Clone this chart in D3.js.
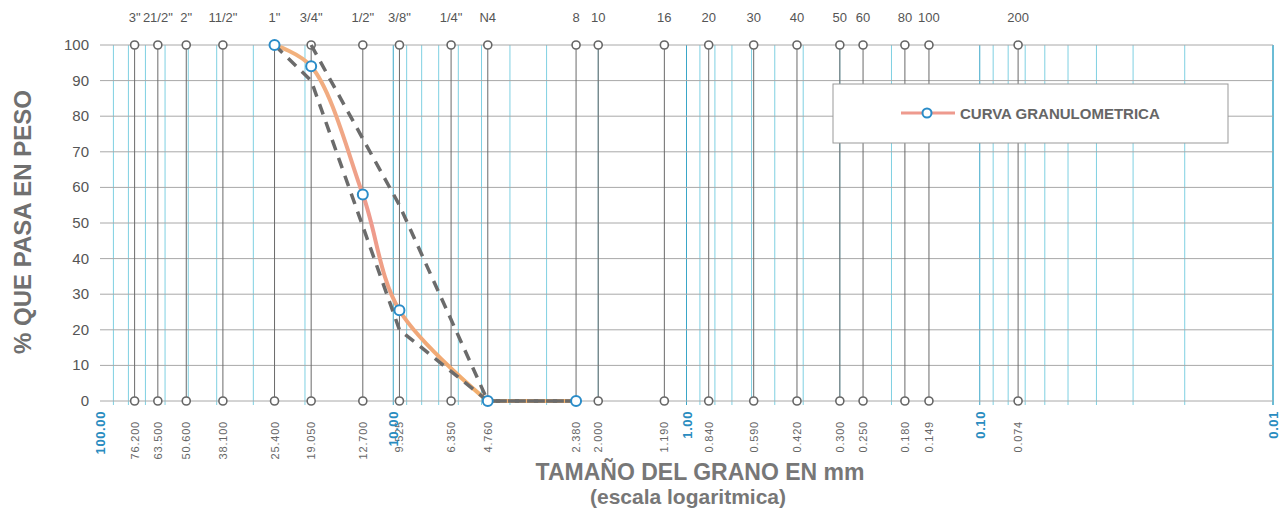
<!DOCTYPE html>
<html>
<head>
<meta charset="utf-8">
<script src="https://cdn.jsdelivr.net/npm/d3@7"></script>
<style>
  body { margin: 0; background: #fff; }
  svg { display: block; font-family: "Liberation Sans", Arial, sans-serif; }
</style>
</head>
<body>
<svg id="chart" width="1284" height="518"></svg>
<script>
// sieves (top name, size in mm, printed size label)
var sieveNames = ['3"', '21/2"', '2"', '11/2"', '1"', '3/4"', '1/2"', '3/8"', '1/4"', 'N4',
                  '8', '10', '16', '20', '30', '40', '50', '60', '80', '100', '200'];
var sieveSizes = [76.2, 63.5, 50.8, 38.1, 25.4, 19.05, 12.7, 9.525, 6.35, 4.76,
                  2.38, 2.0, 1.19, 0.84, 0.59, 0.42, 0.30, 0.25, 0.18, 0.149, 0.074];
var sizeLabels = ["76.200", "63.500", "50.600", "38.100", "25.400", "19.050", "12.700", "9.525", "6.350", "4.760",
                  "2.380", "2.000", "1.190", "0.840", "0.590", "0.420", "0.300", "0.250", "0.180", "0.149", "0.074"];

// decade labels on the x axis
var decades = [100, 10, 1, 0.1, 0.01];
var decadeLabels = ["100.00", "10.00", "1.00", "0.10", "0.01"];

// curva granulometrica
var curveSizes = [25.4, 19.05, 12.7, 9.525, 4.76, 2.38];
var curvePass = [100, 94, 58, 25.5, 0, 0];

// limits (dashed)
var lowerSizes = [25.4, 19.05, 9.525, 4.76, 2.38];
var lowerPass = [100, 90, 20, 0, 0];
var upperSizes = [19.05, 9.525, 4.76, 2.38];
var upperPass = [100, 55, 0, 0];

var yTicks = [0, 10, 20, 30, 40, 50, 60, 70, 80, 90, 100];

var svg = d3.select("#chart");

var x = d3.scaleLog().domain([100, 0.01]).range([100, 1273]);
var y = d3.scaleLinear().domain([0, 100]).range([401, 45]);

// cyan log grid
var minor = [];
decades.slice(0, 4).forEach(function(d) {
  for (var k = 1; k <= 9; k++) minor.push(d * k / 10);
});
minor.push(0.01);

svg.append("g").selectAll("line").data(minor).join("line")
   .attr("x1", function(d) { return x(d); }).attr("x2", function(d) { return x(d); })
   .attr("y1", y(100)).attr("y2", y(0) + 4)
   .style("stroke", function(d) { return decades.indexOf(+d.toPrecision(3)) >= 0 ? "#3aa6c8" : "#7fd0e2"; })
   .style("stroke-width", 1);

// horizontal grid
svg.append("g").selectAll("line").data(yTicks).join("line")
   .attr("x1", x(100)).attr("x2", x(0.01))
   .attr("y1", function(d) { return y(d); }).attr("y2", function(d) { return y(d); })
   .style("stroke", "#a8a8a8").style("stroke-width", 1);

// sieve lines + circles
var sieves = sieveSizes.map(function(s, i) { return { size: s, name: sieveNames[i], lab: sizeLabels[i] }; });
var sg = svg.append("g");
sg.selectAll("line").data(sieves).join("line")
  .attr("x1", function(d) { return x(d.size); }).attr("x2", function(d) { return x(d.size); })
  .attr("y1", y(100)).attr("y2", y(0))
  .style("stroke", "#6a6a6a").style("stroke-width", 1);
sg.selectAll("circle.top").data(sieves).join("circle").attr("class", "top")
  .attr("cx", function(d) { return x(d.size); }).attr("cy", y(100)).attr("r", 4)
  .style("fill", "#fff").style("stroke", "#666").style("stroke-width", 1.6);
sg.selectAll("circle.bot").data(sieves).join("circle").attr("class", "bot")
  .attr("cx", function(d) { return x(d.size); }).attr("cy", y(0)).attr("r", 4)
  .style("fill", "#fff").style("stroke", "#666").style("stroke-width", 1.6);
sg.selectAll("text.name").data(sieves).join("text").attr("class", "name")
  .attr("x", function(d) { return x(d.size); }).attr("y", 22)
  .attr("text-anchor", "middle").style("font-size", "13px").style("fill", "#555")
  .text(function(d) { return d.name; });
sg.selectAll("text.size").data(sieves).join("text").attr("class", "size")
  .attr("transform", function(d) { return "translate(" + (x(d.size) + 4) + ",421) rotate(-90)"; })
  .attr("text-anchor", "end").style("font-size", "11px").style("letter-spacing", "0.8px").style("fill", "#666")
  .text(function(d) { return d.lab; });

// decade labels
svg.append("g").selectAll("text").data(decades).join("text")
   .attr("transform", function(d) { return "translate(" + (x(d) + 5) + ",411) rotate(-90)"; })
   .attr("text-anchor", "end").style("font-size", "13px").style("font-weight", "bold")
   .style("letter-spacing", "0.6px").style("fill", "#2a8cc0")
   .text(function(d, i) { return decadeLabels[i]; });

// y axis labels
svg.append("g").selectAll("text").data(yTicks).join("text")
   .attr("x", 89).attr("y", function(d) { return y(d) + 5; })
   .attr("text-anchor", "end").style("font-size", "15px").style("fill", "#555")
   .text(function(d) { return d; });

// gradient for the curve
var grad = svg.append("defs").append("linearGradient").attr("id", "cg")
   .attr("gradientUnits", "userSpaceOnUse").attr("x1", 0).attr("y1", y(100)).attr("x2", 0).attr("y2", y(0));
grad.append("stop").attr("offset", "0%").attr("stop-color", "#f2b27c");
grad.append("stop").attr("offset", "50%").attr("stop-color", "#ee9a8e");
grad.append("stop").attr("offset", "100%").attr("stop-color", "#f2b06c");

var curvePts = curveSizes.map(function(s, i) { return [x(s), y(curvePass[i])]; });
// smooth part down to N4, straight along 0 after that
svg.append("path").datum(curvePts.slice(0, 5))
   .attr("d", d3.line().curve(d3.curveCatmullRom.alpha(0.5)))
   .style("fill", "none").style("stroke", "url(#cg)").style("stroke-width", 4);
svg.append("path").datum(curvePts.slice(4))
   .attr("d", d3.line())
   .style("fill", "none").style("stroke", "#f2b06c").style("stroke-width", 4);

// limit lines
[[lowerSizes, lowerPass], [upperSizes, upperPass]].forEach(function(l) {
  var pts = l[0].map(function(s, i) { return [x(s), y(l[1][i])]; });
  svg.append("path").datum(pts).attr("d", d3.line())
     .style("fill", "none").style("stroke", "#6b6b6b").style("stroke-width", 3.5)
     .style("stroke-dasharray", "11,8");
});

svg.append("g").selectAll("circle").data(curvePts).join("circle")
   .attr("cx", function(d) { return d[0]; }).attr("cy", function(d) { return d[1]; }).attr("r", 5)
   .style("fill", "#fff").style("stroke", "#2a8cc8").style("stroke-width", 2);

// legend
svg.append("rect").attr("x", 833).attr("y", 84).attr("width", 395).attr("height", 59)
   .style("fill", "#fff").style("stroke", "#999").style("stroke-width", 1);
svg.append("line").attr("x1", 901).attr("x2", 955).attr("y1", 113).attr("y2", 113)
   .style("stroke", "#ee9a8e").style("stroke-width", 3);
svg.append("circle").attr("cx", 927).attr("cy", 113).attr("r", 4.5)
   .style("fill", "#fff").style("stroke", "#2a8cc8").style("stroke-width", 2);
svg.append("text").attr("x", 960).attr("y", 119).text("CURVA GRANULOMETRICA")
   .style("font-size", "15px").style("font-weight", "bold").style("fill", "#666");

// axis titles
svg.append("text").attr("transform", "translate(31,222) rotate(-90)").attr("text-anchor", "middle")
   .text("% QUE PASA EN PESO").style("font-size", "24px").style("font-weight", "bold").style("fill", "#707070");
svg.append("text").attr("x", 700).attr("y", 480).attr("text-anchor", "middle")
   .text("TAMAÑO DEL GRANO EN mm").style("font-size", "23px").style("font-weight", "bold").style("fill", "#777");
svg.append("text").attr("x", 688).attr("y", 504).attr("text-anchor", "middle")
   .text("(escala logaritmica)").style("font-size", "21px").style("font-weight", "bold").style("fill", "#777");
</script>
</body>
</html>
